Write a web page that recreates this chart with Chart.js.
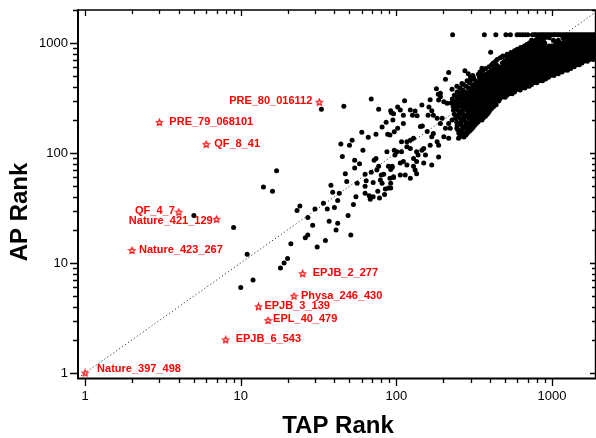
<!DOCTYPE html>
<html>
<head>
<meta charset="utf-8">
<script src="https://cdn.jsdelivr.net/npm/chart.js@4.4.0/dist/chart.umd.min.js"></script>
<style>
  html, body { margin: 0; padding: 0; background: #fff; }
  #wrap { width: 596px; height: 438px; }
</style>
</head>
<body>
<div id="wrap"><canvas id="rankChart" width="596" height="438"></canvas></div>
<script>
// ---- datos ----
const xTickValues = [1, 10, 100, 1000];
const xTickLabels = ['1', '10', '100', '1000'];
const yTickValues = [1, 10, 100, 1000];
const yTickLabels = ['1', '10', '100', '1000'];

// artículos destacados (estrellas rojas)
const starNames = ['Nature_397_498', 'PRE_80_016112', 'PRE_79_068101', 'QF_8_41', 'QF_4_7',
  'Nature_421_129', 'Nature_423_267', 'EPJB_2_277', 'Physa_246_430', 'EPJB_3_139',
  'EPL_40_479', 'EPJB_6_543'];
const starTAP = [1, 32, 3, 6, 4, 7, 2, 25, 22, 13, 15, 8];
const starAP = [1, 290, 190, 120, 29, 25, 13, 8, 5, 4, 3, 2];

// puntos dispersos (TAP, AP)
const sparseTAP = [5, 9, 10, 12, 11, 14, 16, 17, 18, 19, 20, 21, 23, 24,
  47, 54, 48, 63, 69, 75, 77, 92, 80, 83, 91, 96, 71, 79, 81, 64, 63, 56, 85, 89, 76, 84, 63, 67, 68, 71, 78, 55, 53,
  38, 39, 43, 42, 40, 36, 34, 30, 27, 29, 49, 37, 42, 41, 51, 27, 26, 35, 31,
  33, 46, 69, 77, 93, 96, 95, 86, 81, 60, 66, 74, 88, 91, 97, 52, 50, 44, 61, 87, 97, 45, 54, 58, 72, 74, 89, 94,
  113, 92, 102, 106, 111, 102, 111, 123, 132, 127, 136, 146, 165, 162, 169, 160, 173, 192, 202, 212, 228,
  183, 197, 192, 217, 228, 207, 222, 202, 217, 245, 251, 284, 143, 147, 158, 173, 169, 183, 187, 165,
  150, 154, 146, 135, 129, 123, 117, 108, 117, 123, 108, 101, 98, 138, 129, 135, 150, 169, 187,
  111, 106, 117, 129, 132, 135, 123, 114, 106, 96, 94, 92, 92,
  404, 480, 513, 595, 690, 355, 276, 217, 207, 192, 187, 228, 245, 264, 299, 313, 337, 181, 186];
const sparseAP = [27, 21, 6, 7, 12, 49, 45, 69, 9, 10, 11, 15, 30, 33,
  65, 73, 55, 64, 67, 70, 76, 71, 63, 64, 59, 60, 54, 57, 53, 56, 50, 53, 47, 48, 45, 42, 43, 41, 38, 40, 39, 40, 34,
  51, 44, 43, 37, 32, 31, 35, 31, 26, 22, 27, 24, 23, 20, 18, 18, 17, 16, 14,
  250, 267, 310, 250, 232, 228, 200, 191, 173, 155, 139, 148, 148, 146, 156, 131, 118, 121, 106, 103, 106, 93, 86, 80, 86, 89, 76, 74,
  299, 243, 263, 246, 221, 168, 186, 246, 241, 221, 218, 273, 305, 263, 243, 221, 221, 325, 293, 284, 287,
  207, 207, 186, 186, 200, 168, 168, 141, 136, 168, 136, 151, 174, 176, 157, 151, 141, 127, 118, 118,
  110, 96, 106, 103, 136, 131, 127, 127, 114, 110, 103, 103, 96, 96, 89, 84, 81, 78, 92,
  84, 81, 78, 76, 70, 65, 59, 63, 63, 61, 76, 53, 48,
  825, 750, 750, 864, 930, 590, 560, 540, 470, 350, 303, 380, 405, 430, 461, 490, 520, 385, 342];

// fila del tope (AP = 1190)
const capAP = 1190;
const capTAP = [230, 368, 436, 506, 541, 597, 621, 646, 672, 700, 750, 770, 790, 815, 840, 860, 885, 910,
  935, 960, 990, 1020, 1045, 1075, 1105, 1135, 1170, 1200, 1235, 1270, 1305, 1340, 1380, 1420, 1460,
  1500, 1540, 1585, 1630, 1675, 1720, 1770, 1820, 1870, 1920];

// nube densa: por cada valor AP, los TAP observados
const bandAP = [1120, 1090, 1060, 1030, 1000, 970, 940, 910, 880, 850, 820, 790, 765, 737, 710, 685,
  660, 635, 610, 587, 565, 545, 525, 507, 490, 472, 455, 437, 420, 405, 390, 375, 360, 347, 335, 322,
  310, 297, 285, 275, 265, 255, 245, 235, 225, 216, 208, 200, 192, 185, 178, 171, 164, 158, 152, 146, 140];
const bandTAP = [
  [810, 855, 900, 960, 1180, 1250, 1320, 1400, 1470, 1560, 1640, 1730, 1830, 1920],
  [830, 880, 1215, 1285, 1360, 1435, 1515, 1600, 1690, 1780, 1880],
  [740, 785, 830, 875, 1020, 1100, 1250, 1320, 1400, 1480, 1560, 1650, 1740, 1840, 1930],
  [760, 805, 850, 1050, 1200, 1280, 1350, 1420, 1500, 1580, 1670, 1760, 1860],
  [715, 760, 800, 845, 900, 1080, 1150, 1240, 1310, 1380, 1460, 1540, 1620, 1710, 1800, 1900],
  [690, 730, 775, 820, 870, 1110, 1170, 1220, 1290, 1360, 1440, 1520, 1600, 1700, 1800, 1900],
  [665, 705, 745, 790, 835, 880, 960, 1010, 1060, 1120, 1190, 1260, 1330, 1410, 1490, 1570, 1660, 1750, 1850],
  [630, 670, 710, 750, 800, 850, 900, 940, 995, 1050, 1110, 1170, 1240, 1310, 1380, 1460, 1540, 1620, 1710, 1810, 1910],
  [600, 640, 690, 730, 775, 820, 865, 915, 970, 1030, 1090, 1150, 1220, 1290, 1360, 1440, 1520, 1600, 1690, 1790, 1890],
  [575, 615, 660, 700, 745, 790, 835, 880, 930, 985, 1045, 1105, 1170, 1240, 1310, 1380, 1460, 1540, 1630, 1720, 1820, 1920],
  [545, 590, 635, 675, 720, 765, 810, 855, 905, 955, 1010, 1070, 1130, 1200, 1270, 1340, 1420, 1500, 1580, 1670, 1760, 1860, 1930],
  [515, 555, 595, 635, 675, 720, 765, 810, 860, 910, 960, 1015, 1075, 1140, 1210, 1280, 1355, 1435, 1515, 1600, 1690, 1790, 1890],
  [485, 525, 560, 600, 640, 680, 720, 765, 810, 855, 905, 960, 1015, 1075, 1140, 1205, 1275, 1350, 1430, 1510, 1600, 1690, 1790, 1890],
  [465, 540, 575, 615, 655, 700, 740, 785, 830, 880, 930, 985, 1045, 1105, 1170, 1240, 1310, 1385, 1465, 1550, 1640, 1740, 1840, 1930],
  [445, 515, 550, 585, 620, 660, 700, 740, 785, 830, 880, 930, 985, 1040, 1100, 1165, 1235, 1305, 1380, 1460, 1550, 1640, 1740, 1840],
  [435, 495, 530, 565, 600, 640, 680, 720, 760, 805, 855, 905, 955, 1010, 1070, 1135, 1200, 1270, 1345, 1425, 1510, 1600, 1690],
  [420, 480, 510, 545, 580, 615, 650, 690, 735, 780, 825, 875, 925, 980, 1040, 1100, 1165, 1235, 1310, 1390, 1470, 1560],
  [410, 440, 500, 530, 565, 600, 635, 670, 715, 760, 805, 850, 900, 955, 1010, 1070, 1135, 1200, 1275, 1355, 1440, 1500],
  [395, 455, 485, 515, 545, 580, 615, 655, 695, 735, 780, 825, 875, 930, 985, 1045, 1110, 1175, 1245, 1320, 1390],
  [375, 425, 455, 485, 515, 545, 580, 615, 650, 690, 735, 780, 825, 875, 930, 985, 1045, 1105, 1170, 1240, 1320],
  [360, 410, 440, 470, 500, 530, 560, 595, 630, 670, 710, 755, 800, 850, 900, 955, 1010, 1070, 1135, 1200, 1260],
  [345, 395, 420, 450, 480, 510, 540, 575, 610, 645, 690, 730, 775, 825, 875, 930, 985, 1040, 1100, 1160],
  [290, 355, 380, 405, 430, 460, 490, 520, 550, 585, 620, 660, 700, 740, 785, 835, 885, 940, 995, 1055, 1100],
  [310, 355, 378, 402, 428, 455, 482, 510, 540, 570, 605, 640, 680, 720, 765, 815, 865, 920, 975, 1030],
  [300, 342, 365, 390, 415, 440, 468, 497, 527, 558, 592, 628, 665, 705, 750, 795, 845, 895, 950],
  [312, 355, 378, 402, 427, 454, 482, 511, 542, 575, 610, 646, 685, 725, 770, 820, 870, 910],
  [285, 323, 345, 367, 390, 414, 440, 467, 495, 525, 557, 590, 625, 662, 700, 740, 785, 830, 870],
  [295, 336, 358, 380, 404, 428, 455, 482, 511, 542, 574, 608, 643, 681, 720, 760, 800],
  [270, 307, 327, 348, 370, 393, 417, 442, 469, 497, 527, 558, 590, 625, 660, 700, 740],
  [280, 318, 339, 360, 383, 407, 431, 457, 484, 513, 544, 576, 610, 646, 685, 715],
  [256, 291, 310, 330, 351, 373, 396, 420, 446, 472, 500, 530, 562, 596, 632, 670],
  [267, 304, 323, 344, 365, 388, 411, 436, 462, 490, 519, 551, 585, 625],
  [246, 262, 279, 297, 316, 336, 357, 379, 402, 427, 453, 480, 508, 540, 575],
  [257, 291, 310, 329, 349, 371, 393, 417, 442, 469, 496, 527, 555],
  [236, 252, 268, 285, 303, 322, 342, 363, 385, 408, 432, 458, 485, 515],
  [248, 280, 298, 316, 336, 356, 378, 400, 424, 449, 475, 500],
  [229, 244, 260, 276, 293, 311, 330, 350, 371, 393, 416, 440, 462],
  [242, 274, 291, 309, 328, 347, 368, 390, 413, 437, 455],
  [225, 240, 256, 272, 289, 307, 326, 345, 366, 388, 410, 435],
  [244, 277, 294, 312, 331, 351, 372, 394, 416, 438],
  [232, 248, 264, 281, 299, 318, 337, 357, 378, 400, 422],
  [240, 273, 290, 309, 328, 348, 369, 390, 411],
  [233, 249, 266, 283, 301, 320, 340, 360, 380, 400],
  [258, 294, 313, 332, 352, 372, 392],
  [236, 252, 269, 287, 305, 324, 344, 364, 384],
  [244, 278, 296, 315, 336, 355, 374],
  [240, 256, 273, 291, 309, 328, 347, 362],
  [265, 303, 321, 340, 355],
  [244, 261, 279, 297, 316, 335],
  [252, 289, 308, 326],
  [246, 263, 281, 300, 318],
  [274, 292, 311],
  [248, 266, 285, 303],
  [258, 295],
  [252, 270, 286],
  [262, 280],
  [255, 272]
];

// recta y = x (extremos)
const diagonal = [0.9, 2000];

// ---- estilos ----
const FUENTE = "'Liberation Sans', Arial, sans-serif";
const ROJO = '#ff0000';
// desplazamiento de cada etiqueta respecto a su estrella: [dx, dy, alineación]
const labelOffsets = [
  [12, -4, 'left'], [-7, -1, 'right'], [10, 0, 'left'], [8, 0, 'left'], [-4, -1, 'right'],
  [-4, 2, 'right'], [7, -1, 'left'], [10, -1, 'left'], [7, -0.5, 'left'], [6, -1, 'left'],
  [5, -1.5, 'left'], [10, -0.5, 'left']
];

function crearEstrella() {
    const c = document.createElement('canvas');
    c.width = 9; c.height = 9;
    const g = c.getContext('2d');
    g.strokeStyle = ROJO;
    g.lineWidth = 1.2;
    g.beginPath();
    for (let i = 0; i < 10; i++) {
        const r = i % 2 === 0 ? 3.3 : 1.5;
        const ang = -Math.PI / 2 + i * Math.PI / 5;
        const px = 4.5 + r * Math.cos(ang), py = 4.7 + r * Math.sin(ang);
        if (i === 0) g.moveTo(px, py); else g.lineTo(px, py);
    }
    g.closePath();
    g.stroke();
    return c;
}

// ejes estilo Origin: marcos, ticks y textos
const ejesPlugin = {
    id: 'ejes',
    afterDraw(chart) {
        const ctx = chart.ctx;
        const a = chart.chartArea;
        const sx = chart.scales.x, sy = chart.scales.y;
        ctx.save();
        ctx.strokeStyle = '#000';
        ctx.fillStyle = '#000';

        ctx.lineWidth = 1.4;
        ctx.beginPath();
        ctx.moveTo(a.left, a.top); ctx.lineTo(a.right, a.top);
        ctx.moveTo(a.right - 0.5, a.top); ctx.lineTo(a.right - 0.5, a.bottom);
        ctx.stroke();
        ctx.lineWidth = 2;
        ctx.beginPath();
        ctx.moveTo(a.left, a.top - 0.7); ctx.lineTo(a.left, a.bottom + 1.5);
        ctx.moveTo(a.left - 1, a.bottom + 0.5); ctx.lineTo(a.right, a.bottom + 0.5);
        ctx.stroke();

        // ticks
        ctx.lineWidth = 1.3;
        ctx.beginPath();
        xTickValues.forEach(dec => {
            for (let m = 1; m <= 9; m++) {
                const v = dec * m;
                if (v < sx.min || v > sx.max) continue;
                const p = Math.round(sx.getPixelForValue(v)) + 0.5;
                const mayor = m === 1;
                ctx.moveTo(p, a.bottom + 1); ctx.lineTo(p, a.bottom + (mayor ? 8 : 5));
                ctx.moveTo(p, a.top); ctx.lineTo(p, a.top + (mayor ? 6 : 4));
            }
        });
        yTickValues.forEach(dec => {
            for (let m = 1; m <= 9; m++) {
                const v = dec * m;
                if (v < sy.min || v > sy.max) continue;
                const p = Math.round(sy.getPixelForValue(v)) + 0.5;
                const mayor = m === 1;
                ctx.moveTo(a.left - 1, p); ctx.lineTo(a.left - (mayor ? 8 : 5), p);
                ctx.moveTo(a.right, p); ctx.lineTo(a.right - (mayor ? 6 : 4), p);
            }
        });
        ctx.stroke();

        // etiquetas de ticks
        ctx.font = '13px ' + FUENTE;
        ctx.textAlign = 'center';
        ctx.textBaseline = 'middle';
        xTickValues.forEach((v, i) => ctx.fillText(xTickLabels[i], sx.getPixelForValue(v), a.bottom + 18));
        ctx.textAlign = 'right';
        yTickValues.forEach((v, i) => ctx.fillText(yTickLabels[i], a.left - 10, sy.getPixelForValue(v) + 0.5));

        // títulos
        ctx.font = 'bold 24px ' + FUENTE;
        ctx.textAlign = 'center';
        ctx.textBaseline = 'alphabetic';
        ctx.fillText('TAP Rank', (a.left + a.right) / 2 + 1, 433);
        ctx.save();
        ctx.translate(27, 212);
        ctx.rotate(-Math.PI / 2);
        ctx.fillText('AP Rank', 0, 0);
        ctx.restore();

        // nombres de los artículos
        ctx.font = 'bold 11px ' + FUENTE;
        ctx.fillStyle = ROJO;
        ctx.textBaseline = 'middle';
        starNames.forEach((n, i) => {
            const [dx, dy, al] = labelOffsets[i];
            ctx.textAlign = al;
            ctx.fillText(n, sx.getPixelForValue(starTAP[i]) + dx, sy.getPixelForValue(starAP[i]) + dy);
        });
        ctx.restore();
    }
};

const puntos = [];
sparseTAP.forEach((t, i) => puntos.push({ x: t, y: sparseAP[i] }));
capTAP.forEach(t => puntos.push({ x: t, y: capAP }));
bandAP.forEach((ap, i) => bandTAP[i].forEach(t => puntos.push({ x: t, y: ap })));

const estrellas = starTAP.map((t, i) => ({ x: t, y: starAP[i] }));

new Chart(document.getElementById('rankChart').getContext('2d'), {
    type: 'scatter',
    data: {
        datasets: [{
            data: diagonal.map(v => ({ x: v, y: v })),
            showLine: true,
            borderColor: '#333',
            borderWidth: 1,
            borderDash: [1.2, 2.4],
            pointRadius: 0,
            order: 3
        }, {
            data: puntos,
            pointRadius: 2.5,
            pointBorderWidth: 0,
            backgroundColor: '#000',
            borderColor: '#000',
            order: 2
        }, {
            data: estrellas,
            pointStyle: crearEstrella(),
            pointRadius: 4,
            order: 1
        }]
    },
    options: {
        responsive: false,
        animation: false,
        devicePixelRatio: 1,
        layout: { autoPadding: false, padding: { left: 78, right: 0, top: 10, bottom: 60 } },
        plugins: { legend: { display: false }, tooltip: { enabled: false } },
        scales: {
            x: { type: 'logarithmic', min: 0.9, max: 1920, display: false },
            y: { type: 'logarithmic', min: 0.9, max: 2000, display: false }
        }
    },
    plugins: [ejesPlugin]
});
</script>
</body>
</html>
